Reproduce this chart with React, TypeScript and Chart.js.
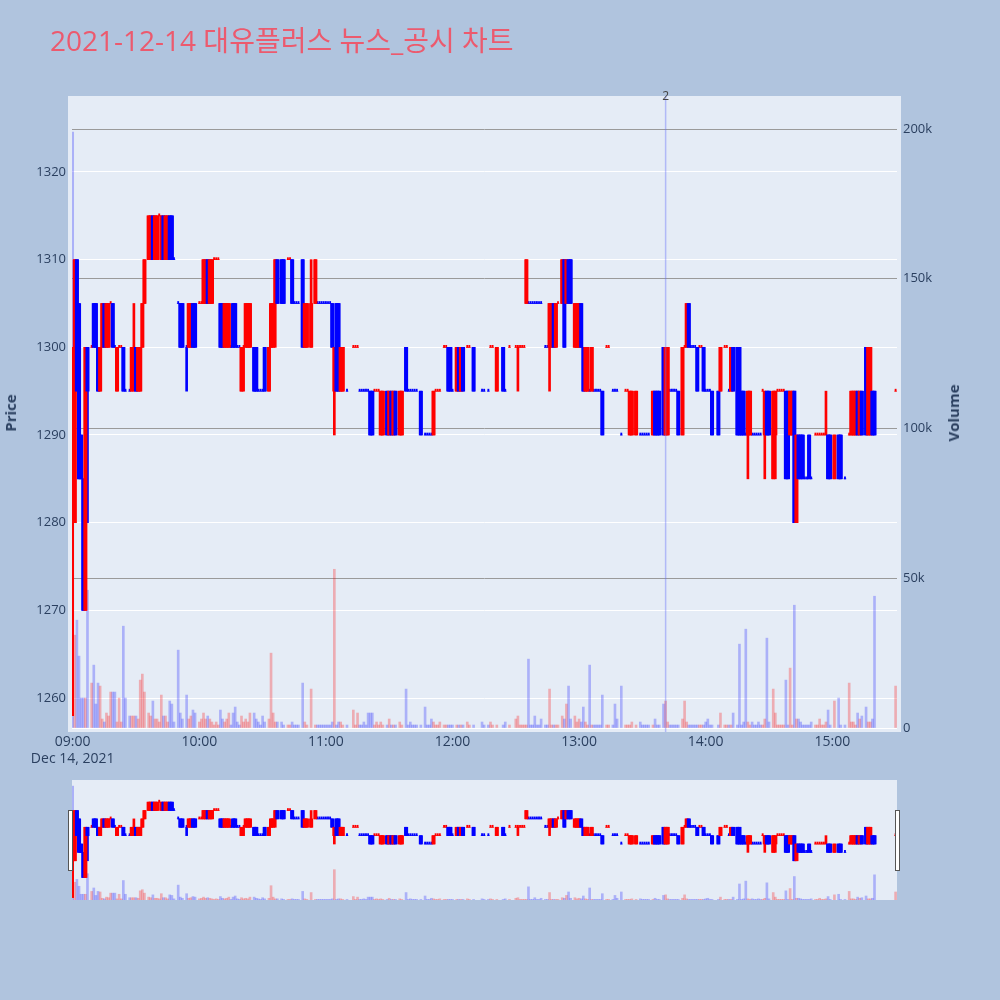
import React, { useEffect, useRef } from "react";
import { Chart, registerables } from "chart.js";

Chart.register(...registerables);

// minutes after 09:00
const minutes = [
  0,1,2,3,4,5,6,7,9,10,
  11,12,13,14,15,16,17,18,19,20,
  21,22,23,24,25,27,28,29,30,31,
  32,33,34,36,37,38,39,40,41,42,
  43,44,45,46,47,48,50,51,52,54,
  55,56,57,58,60,61,62,63,64,65,
  66,67,68,69,70,71,72,73,74,75,
  76,77,78,79,80,81,82,83,84,86,
  87,88,89,90,91,93,94,95,96,97,
  99,100,102,103,104,105,106,107,109,110,
  111,113,115,116,117,118,119,120,121,122,
  123,124,125,126,127,128,130,133,134,135,
  136,137,138,139,140,141,142,143,144,145,
  146,147,149,150,151,152,153,155,156,158,
  159,160,161,162,163,165,167,168,169,170,
  171,172,173,174,176,177,178,179,180,182,
  183,184,185,187,188,190,194,195,197,198,
  199,201,204,205,207,210,211,212,213,214,
  215,216,217,218,219,220,221,222,224,225,
  226,227,228,229,230,232,233,234,235,236,
  238,239,240,241,242,243,244,245,246,247,
  248,249,250,251,253,254,256,257,258,260,
  262,263,264,265,267,269,270,271,272,273,
  275,276,277,278,280,281,282,283,284,285,
  286,287,289,290,291,292,293,294,295,296,
  297,298,299,300,301,302,303,306,307,309,
  310,311,312,313,315,316,317,318,319,320,
  321,322,323,324,325,326,327,328,329,330,
  332,333,334,335,336,337,338,339,340,341,
  342,343,344,345,346,347,348,349,350,352,
  353,354,355,356,357,358,359,361,363,364,
  366,368,369,370,371,372,373,374,376,377,
  378,379,380,390,
];

const opens = [
  1280,1280,1310,1305,1290,1285,1270,1300,1300,1305,
  1305,1300,1295,1300,1305,1300,1300,1305,1305,1300,
  1295,1300,1300,1300,1295,1295,1295,1300,1300,1295,
  1295,1300,1305,1310,1310,1315,1310,1310,1315,1310,
  1315,1310,1310,1315,1315,1310,1305,1305,1305,1300,
  1300,1300,1305,1305,1305,1305,1305,1305,1310,1305,
  1305,1310,1310,1310,1305,1305,1300,1300,1300,1300,
  1305,1305,1300,1300,1295,1300,1300,1300,1300,1300,
  1300,1295,1295,1295,1300,1295,1300,1300,1305,1310,
  1310,1310,1310,1310,1310,1305,1305,1305,1310,1300,
  1300,1300,1305,1305,1305,1305,1305,1305,1305,1305,
  1305,1295,1305,1305,1295,1295,1295,1300,1300,1300,
  1295,1295,1295,1295,1295,1295,1295,1295,1295,1295,
  1290,1290,1295,1290,1295,1290,1295,1290,1290,1300,
  1295,1295,1295,1295,1295,1295,1290,1290,1290,1290,
  1290,1295,1295,1295,1300,1300,1300,1300,1295,1295,
  1300,1295,1300,1300,1300,1300,1295,1295,1295,1300,
  1300,1295,1300,1295,1300,1300,1300,1300,1300,1300,
  1305,1305,1305,1305,1305,1305,1305,1305,1300,1300,
  1300,1300,1305,1300,1305,1305,1310,1305,1310,1310,
  1300,1300,1300,1305,1300,1295,1295,1295,1295,1295,
  1295,1295,1295,1295,1300,1300,1295,1295,1295,1290,
  1295,1295,1290,1290,1290,1290,1290,1290,1290,1290,
  1290,1295,1295,1295,1300,1290,1290,1295,1295,1295,
  1295,1295,1290,1300,1300,1305,1300,1300,1300,1300,
  1300,1300,1300,1295,1295,1295,1295,1295,1295,1300,
  1300,1295,1295,1300,1300,1300,1295,1295,1290,1290,
  1290,1290,1290,1290,1290,1290,1295,1290,1295,1295,
  1285,1290,1295,1295,1295,1295,1295,1295,1290,1290,
  1295,1280,1290,1290,1290,1285,1285,1290,1285,1290,
  1290,1290,1290,1290,1290,1290,1290,1285,1290,1290,
  1285,1290,1290,1290,1290,1295,1290,1295,1300,1290,
  1290,1295,1295,1295,
];

const highs = [
  1300,1310,1310,1305,1290,1285,1300,1300,1300,1305,
  1305,1300,1300,1305,1305,1305,1305,1305,1305,1300,
  1300,1300,1300,1300,1295,1295,1300,1305,1300,1300,
  1300,1305,1310,1315,1315,1315,1315,1315,1315,1315,
  1315,1315,1315,1315,1315,1310,1305,1305,1305,1300,
  1305,1305,1305,1305,1305,1305,1310,1310,1310,1310,
  1310,1310,1310,1310,1305,1305,1305,1305,1305,1300,
  1305,1305,1300,1300,1300,1300,1305,1305,1305,1300,
  1300,1295,1295,1295,1300,1300,1305,1305,1310,1310,
  1310,1310,1310,1310,1310,1305,1305,1305,1310,1305,
  1305,1310,1310,1305,1305,1305,1305,1305,1305,1305,
  1305,1300,1305,1305,1300,1300,1295,1300,1300,1300,
  1295,1295,1295,1295,1295,1295,1295,1295,1295,1295,
  1295,1295,1295,1295,1295,1295,1295,1295,1295,1300,
  1295,1295,1295,1295,1295,1295,1290,1290,1290,1290,
  1295,1295,1295,1295,1300,1300,1300,1300,1295,1300,
  1300,1300,1300,1300,1300,1300,1295,1295,1295,1300,
  1300,1300,1300,1295,1300,1300,1300,1300,1300,1300,
  1310,1305,1305,1305,1305,1305,1305,1305,1300,1300,
  1305,1305,1305,1305,1305,1310,1310,1310,1310,1310,
  1305,1305,1305,1305,1300,1300,1300,1295,1300,1295,
  1295,1295,1295,1295,1300,1300,1295,1295,1295,1290,
  1295,1295,1295,1295,1295,1290,1290,1290,1290,1290,
  1295,1295,1295,1295,1300,1300,1300,1295,1295,1295,
  1295,1295,1300,1300,1305,1305,1300,1300,1300,1300,
  1300,1300,1300,1295,1295,1295,1295,1295,1300,1300,
  1300,1295,1300,1300,1300,1300,1295,1295,1290,1295,
  1295,1290,1290,1290,1290,1290,1295,1295,1295,1295,
  1295,1295,1295,1295,1295,1295,1295,1295,1295,1295,
  1295,1290,1290,1290,1290,1285,1285,1290,1285,1290,
  1290,1290,1290,1290,1295,1290,1290,1290,1290,1290,
  1285,1290,1295,1295,1295,1295,1295,1295,1300,1300,
  1300,1295,1295,1295,
];

const lows = [
  1258,1280,1295,1285,1285,1270,1270,1280,1300,1300,
  1300,1295,1295,1300,1300,1300,1300,1305,1300,1300,
  1295,1300,1300,1295,1295,1295,1295,1295,1295,1295,
  1295,1300,1305,1310,1310,1310,1310,1310,1315,1310,
  1310,1310,1310,1310,1310,1310,1305,1300,1300,1295,
  1300,1300,1300,1300,1305,1305,1305,1305,1305,1305,
  1305,1310,1310,1310,1300,1300,1300,1300,1300,1300,
  1300,1300,1300,1300,1295,1295,1300,1300,1300,1295,
  1295,1295,1295,1295,1295,1295,1300,1300,1300,1305,
  1305,1305,1310,1310,1305,1305,1305,1305,1300,1300,
  1300,1300,1305,1305,1305,1305,1305,1305,1305,1305,
  1300,1290,1295,1295,1295,1295,1295,1300,1300,1300,
  1295,1295,1295,1295,1295,1290,1290,1295,1295,1295,
  1290,1290,1290,1290,1290,1290,1290,1290,1290,1295,
  1295,1295,1295,1295,1295,1290,1290,1290,1290,1290,
  1290,1295,1295,1295,1300,1300,1295,1295,1295,1295,
  1295,1295,1295,1300,1300,1295,1295,1295,1295,1300,
  1300,1295,1295,1295,1300,1300,1295,1300,1300,1300,
  1305,1305,1305,1305,1305,1305,1305,1305,1300,1300,
  1295,1300,1300,1300,1305,1305,1300,1305,1305,1305,
  1300,1300,1300,1300,1295,1295,1295,1295,1295,1295,
  1295,1295,1295,1290,1300,1300,1295,1295,1295,1290,
  1295,1295,1290,1290,1290,1290,1290,1290,1290,1290,
  1290,1290,1290,1290,1290,1290,1290,1295,1295,1295,
  1295,1290,1290,1300,1300,1300,1300,1300,1300,1295,
  1300,1300,1295,1295,1295,1295,1290,1290,1295,1300,
  1300,1295,1295,1295,1290,1290,1290,1290,1290,1285,
  1290,1290,1290,1290,1290,1290,1295,1285,1290,1290,
  1285,1285,1295,1295,1295,1295,1285,1285,1290,1290,
  1280,1280,1285,1285,1285,1285,1285,1285,1285,1290,
  1290,1290,1290,1290,1290,1285,1285,1285,1285,1285,
  1285,1290,1290,1290,1290,1290,1290,1290,1290,1290,
  1290,1290,1290,1295,
];

const closes = [
  1300,1310,1295,1285,1285,1270,1300,1295,1300,1300,
  1300,1295,1300,1305,1300,1305,1305,1305,1300,1300,
  1300,1300,1300,1295,1295,1295,1300,1300,1295,1300,
  1300,1305,1310,1315,1315,1310,1315,1315,1315,1315,
  1310,1315,1315,1310,1310,1310,1305,1300,1300,1300,
  1305,1305,1300,1300,1305,1305,1310,1310,1305,1310,
  1310,1310,1310,1310,1300,1300,1305,1305,1305,1300,
  1300,1300,1300,1300,1300,1300,1305,1305,1305,1295,
  1295,1295,1295,1295,1295,1300,1305,1305,1310,1305,
  1305,1305,1310,1310,1305,1305,1305,1305,1300,1305,
  1305,1305,1310,1305,1305,1305,1305,1305,1305,1305,
  1300,1300,1295,1295,1300,1300,1295,1300,1300,1300,
  1295,1295,1295,1295,1295,1290,1290,1295,1295,1295,
  1295,1295,1290,1295,1290,1295,1290,1295,1295,1295,
  1295,1295,1295,1295,1295,1290,1290,1290,1290,1290,
  1295,1295,1295,1295,1300,1300,1295,1295,1295,1300,
  1295,1300,1295,1300,1300,1295,1295,1295,1295,1300,
  1300,1300,1295,1295,1300,1300,1300,1300,1300,1300,
  1310,1305,1305,1305,1305,1305,1305,1305,1300,1300,
  1305,1305,1300,1305,1305,1310,1300,1310,1305,1305,
  1305,1305,1305,1300,1295,1300,1300,1295,1300,1295,
  1295,1295,1295,1290,1300,1300,1295,1295,1295,1290,
  1295,1295,1295,1295,1295,1290,1290,1290,1290,1290,
  1295,1290,1290,1290,1290,1300,1300,1295,1295,1295,
  1295,1290,1300,1300,1305,1300,1300,1300,1300,1295,
  1300,1300,1295,1295,1295,1295,1290,1290,1300,1300,
  1300,1295,1300,1295,1290,1290,1290,1290,1290,1295,
  1295,1290,1290,1290,1290,1290,1295,1295,1290,1290,
  1295,1295,1295,1295,1295,1295,1285,1285,1295,1295,
  1280,1290,1285,1285,1285,1285,1285,1285,1285,1290,
  1290,1290,1290,1290,1290,1285,1285,1290,1285,1285,
  1285,1290,1295,1295,1295,1290,1295,1290,1290,1300,
  1300,1290,1290,1295,
];

// volume in thousands of shares
const volumes = [
  199,31,36,24,10,10,10,46,15,21,
  8,15,14,3,2,5,4,12,12,12,
  2,10,2,34,10,4,4,4,4,3,
  16,18,12,5,4,9,3,3,2,11,
  4,4,2,9,8,2,26,5,3,11,
  3,4,6,5,2,3,5,3,4,3,
  2,1,2,1,6,3,2,3,5,1,
  5,7,2,1,4,2,3,2,5,5,
  3,2,1,4,2,3,25,5,2,2,
  2,1,1,1,2,1,1,1,15,2,
  1,13,1,1,1,1,1,1,1,1,
  2,53,1,2,2,1,1,6,1,5,
  1,1,2,1,5,5,5,1,2,1,
  2,1,1,3,1,1,1,2,1,13,
  1,2,1,1,1,1,7,1,1,3,
  2,1,1,2,1,1,1,1,1,1,
  1,1,1,2,1,1,2,1,1,2,
  1,1,1,2,1,3,4,1,1,1,
  1,23,1,1,4,1,1,3,1,1,
  13,1,1,1,1,4,3,8,14,3,
  4,2,3,2,7,2,1,21,1,1,
  1,1,1,11,1,1,1,8,3,14,
  1,1,1,2,1,2,1,1,1,1,
  1,3,1,1,8,9,2,1,1,1,
  1,1,3,9,2,1,1,1,1,1,
  1,1,1,2,3,1,1,1,5,1,
  1,1,1,5,1,28,1,2,33,2,
  1,2,1,1,2,1,1,3,30,2,
  13,5,1,1,1,1,16,1,20,1,
  41,3,3,2,1,1,1,1,2,1,
  1,3,1,1,2,6,1,9,10,1,
  1,15,2,2,1,5,3,4,7,2,
  2,3,44,14,
];

const priceTicks = [1260, 1270, 1280, 1290, 1300, 1310, 1320];
const volumeTicks = [0, 50, 100, 150, 200];
const timeTickMinutes = [0, 60, 120, 180, 240, 300, 360];
const timeTickLabels = ["09:00", "10:00", "11:00", "12:00", "13:00", "14:00", "15:00"];
const dateLabel = "Dec 14, 2021";
const newsMinutes = [281];
const newsLabels = ["2"];

const X_MIN = -0.33;
const X_MAX = 390.66;
const P_MIN = 1256.58;
const P_MAX = 1328.21;
const V_MIN = 0;
const V_MAX = 209.7;

const UP = "#ff0000";
const DOWN = "#0000ff";
const UP_VOL = "rgba(255,0,0,0.27)";
const DOWN_VOL = "rgba(0,0,255,0.25)";
const FONT = "'Open Sans', 'Noto Sans CJK KR', sans-serif";
const TEXT = "#2a3f5f";

function upFlags(): boolean[] {
  const res: boolean[] = [];
  let prevClose = opens[0];
  let prevUp = true;
  for (let i = 0; i < minutes.length; i++) {
    let u: boolean;
    if (closes[i] > opens[i]) u = true;
    else if (closes[i] < opens[i]) u = false;
    else if (closes[i] > prevClose) u = true;
    else if (closes[i] < prevClose) u = false;
    else u = prevUp;
    res.push(u);
    prevUp = u;
    prevClose = closes[i];
  }
  return res;
}

// volume colour: change versus the previous minute's close, candle colour when unchanged
function volumeUpFlags(candleUp: boolean[]): boolean[] {
  return minutes.map((_, i) => {
    if (i === 0) return false;
    if (closes[i] > closes[i - 1]) return true;
    if (closes[i] < closes[i - 1]) return false;
    return candleUp[i];
  });
}

function makeDatasets(): any[] {
  const ups = upFlags();
  const vUps = volumeUpFlags(ups);
  const col = (i: number) => (ups[i] ? UP : DOWN);
  const idx = minutes.map((_, i) => i);
  const bodyIdx = idx.filter((i) => opens[i] !== closes[i]);
  const flatIdx = idx.filter((i) => opens[i] === closes[i]);
  return [
    {
      type: "bar",
      label: "Volume",
      yAxisID: "yv",
      data: minutes.map((m, i) => ({ x: m, y: volumes[i] })),
      backgroundColor: vUps.map((u) => (u ? UP_VOL : DOWN_VOL)),
      borderWidth: 0,
      barThickness: 2,
      grouped: false,
      order: 4,
    },
    {
      type: "bar",
      label: "wick",
      yAxisID: "y",
      data: minutes.map((m, i) => ({ x: m, y: [lows[i], highs[i]] })),
      backgroundColor: idx.map(col),
      borderWidth: 0,
      barThickness: 2,
      grouped: false,
      order: 3,
    },
    {
      type: "bar",
      label: "flat",
      yAxisID: "y",
      data: flatIdx.map((i) => ({ x: minutes[i], y: [opens[i], closes[i]] })),
      backgroundColor: flatIdx.map(col),
      borderWidth: 0,
      barThickness: 1.2,
      minBarLength: 2,
      grouped: false,
      order: 2,
    },
    {
      type: "bar",
      label: "body",
      yAxisID: "y",
      data: bodyIdx.map((i) => ({
        x: minutes[i],
        y: [Math.min(opens[i], closes[i]), Math.max(opens[i], closes[i])],
      })),
      backgroundColor: bodyIdx.map(col),
      borderWidth: 0,
      barThickness: 3.4,
      grouped: false,
      order: 1,
    },
  ];
}

const bgPlugin = {
  id: "plotBg",
  beforeDraw(chart: any) {
    const ctx = chart.ctx;
    ctx.save();
    ctx.fillStyle = "#E5ECF6";
    ctx.fillRect(68, 96, 833, 636);
    ctx.restore();
  },
};

const newsPlugin = {
  id: "newsLine",
  afterDatasetsDraw(chart: any) {
    const ctx = chart.ctx;
    const xs = chart.scales.x;
    ctx.save();
    newsMinutes.forEach((m, i) => {
      const x = xs.getPixelForValue(m);
      ctx.strokeStyle = "rgba(99,110,250,0.4)";
      ctx.lineWidth = 1.5;
      ctx.beginPath();
      ctx.moveTo(x, 96);
      ctx.lineTo(x, 732);
      ctx.stroke();
      ctx.fillStyle = "#444";
      ctx.font = `12px ${FONT}`;
      ctx.textAlign = "center";
      ctx.textBaseline = "middle";
      ctx.fillText(newsLabels[i], x, 97);
    });
    ctx.restore();
  },
};

export default function App() {
  const mainRef = useRef<HTMLCanvasElement | null>(null);
  const sliderRef = useRef<HTMLCanvasElement | null>(null);

  useEffect(() => {
    if (!mainRef.current || !sliderRef.current) return;
    const tickFont = { family: FONT, size: 13 };
    const main = new Chart(mainRef.current, {
      type: "bar",
      data: { datasets: makeDatasets() },
      options: {
        responsive: false,
        animation: false,
        layout: { padding: { top: 100, left: 0, right: 0, bottom: 0 } },
        plugins: { legend: { display: false }, tooltip: { enabled: false } },
        scales: {
          x: {
            type: "linear",
            min: X_MIN,
            max: X_MAX,
            offset: false,
            grid: { display: false, drawTicks: false },
            border: { display: false },
            afterBuildTicks: (s: any) => {
              s.ticks = timeTickMinutes.map((v) => ({ value: v }));
            },
            afterFit: (s: any) => {
              s.height = 52;
            },
            ticks: {
              autoSkip: false,
              maxRotation: 0,
              minRotation: 0,
              padding: 6,
              color: TEXT,
              font: { family: FONT, size: 14 },
              callback: (v: any) => {
                const k = timeTickMinutes.indexOf(Number(v));
                if (k < 0) return "";
                return k === 0 ? [timeTickLabels[0], dateLabel] : timeTickLabels[k];
              },
            },
          },
          y: {
            type: "linear",
            position: "left",
            min: P_MIN,
            max: P_MAX,
            grid: { color: "#ffffff", lineWidth: 1, drawTicks: false },
            border: { display: false },
            afterBuildTicks: (s: any) => {
              s.ticks = priceTicks.map((v) => ({ value: v }));
            },
            afterFit: (s: any) => {
              s.width = 72;
            },
            ticks: {
              autoSkip: false,
              padding: 6,
              color: TEXT,
              font: tickFont,
              callback: (v: any) => String(v),
            },
          },
          yv: {
            type: "linear",
            position: "right",
            min: V_MIN,
            max: V_MAX,
            grid: {
              color: (c: any) => (c.tick && c.tick.value === 0 ? "#ffffff" : "#9a9a9a"),
              lineWidth: 1,
              drawTicks: false,
            },
            border: { display: false },
            afterBuildTicks: (s: any) => {
              s.ticks = volumeTicks.map((v) => ({ value: v }));
            },
            afterFit: (s: any) => {
              s.width = 103;
            },
            ticks: {
              autoSkip: false,
              padding: 6,
              color: TEXT,
              font: tickFont,
              callback: (v: any) => (Number(v) === 0 ? "0" : `${v}k`),
            },
          },
        },
      } as any,
      plugins: [bgPlugin, newsPlugin],
    } as any);

    const slider = new Chart(sliderRef.current, {
      type: "bar",
      data: { datasets: makeDatasets() },
      options: {
        responsive: false,
        animation: false,
        layout: { padding: 0 },
        plugins: { legend: { display: false }, tooltip: { enabled: false } },
        scales: {
          x: { type: "linear", min: X_MIN, max: X_MAX, offset: false, display: false },
          y: { type: "linear", min: P_MIN, max: P_MAX, display: false },
          yv: { type: "linear", min: V_MIN, max: V_MAX, display: false, position: "right" },
        },
      } as any,
    } as any);

    return () => {
      main.destroy();
      slider.destroy();
    };
  }, []);

  const handle: React.CSSProperties = {
    position: "absolute",
    top: 810,
    width: 5,
    height: 61,
    background: "#ffffff",
    border: "1px solid #555",
    boxSizing: "border-box",
  };

  return (
    <div
      style={{
        position: "absolute",
        left: 0,
        top: 0,
        width: 1000,
        height: 1000,
        background: "#B0C4DE",
        overflow: "hidden",
        fontFamily: FONT,
      }}
    >
      <canvas
        ref={mainRef}
        width={1000}
        height={780}
        style={{ position: "absolute", left: 0, top: 0, width: 1000, height: 780 }}
      />
      <div
        style={{
          position: "absolute",
          left: 72,
          top: 780,
          width: 825,
          height: 120,
          background: "#E5ECF6",
        }}
      />
      <canvas
        ref={sliderRef}
        width={825}
        height={120}
        style={{ position: "absolute", left: 72, top: 780, width: 825, height: 120 }}
      />
      <div style={{ ...handle, left: 68 }} />
      <div style={{ ...handle, left: 895 }} />
      <div
        style={{
          position: "absolute",
          left: 50,
          top: 19,
          fontSize: 28,
          color: "#EC5A6E",
          whiteSpace: "nowrap",
          fontFamily: FONT,
        }}
      >
        2021-12-14 대유플러스 뉴스_공시 차트
      </div>
      <div
        style={{
          position: "absolute",
          left: 10,
          top: 413,
          transform: "translate(-50%, -50%) rotate(-90deg)",
          fontSize: 15,
          fontWeight: "bold",
          color: TEXT,
          whiteSpace: "nowrap",
        }}
      >
        Price
      </div>
      <div
        style={{
          position: "absolute",
          left: 953,
          top: 413,
          transform: "translate(-50%, -50%) rotate(-90deg)",
          fontSize: 15,
          fontWeight: "bold",
          color: TEXT,
          whiteSpace: "nowrap",
        }}
      >
        Volume
      </div>
    </div>
  );
}
